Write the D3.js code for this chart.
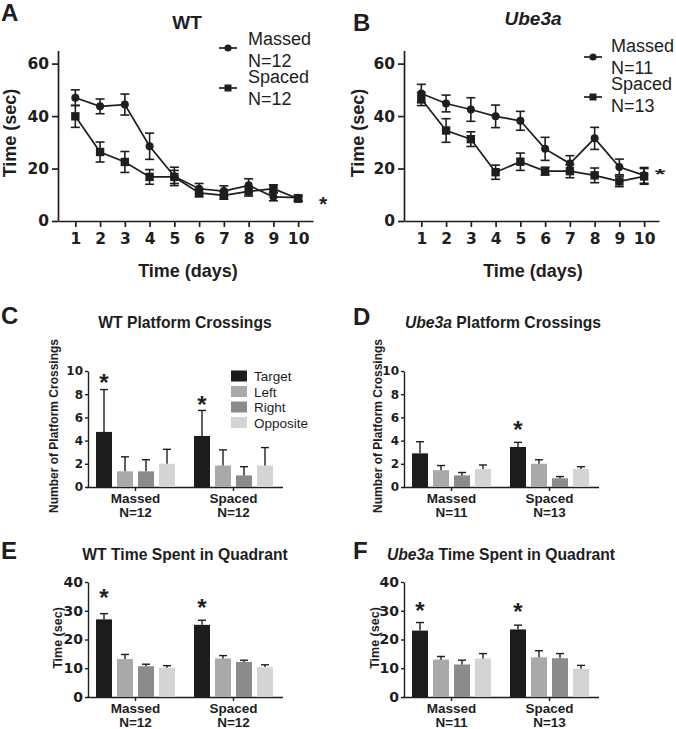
<!DOCTYPE html>
<html><head><meta charset="utf-8">
<script src="https://cdn.jsdelivr.net/npm/d3@7"></script>
<style>
body{margin:0;background:#fff}
svg{display:block}
text{font-family:"Liberation Sans",Arial,sans-serif;fill:#1e1e1e}
.num text{font-family:"DejaVu Sans",sans-serif;font-weight:bold}
</style>
</head><body>
<svg id="c" width="676" height="729"></svg>
<script>
// ---------- data ----------
const days = [1,2,3,4,5,6,7,8,9,10];
const timeTicks = [0,20,40,60];

const wtMassed     = [47.0, 43.7, 44.4, 28.5, 17.0, 12.3, 11.4, 13.6, 9.2, 8.9];
const wtMassedErr  = [3.0, 2.8, 4.0, 5.0, 3.5, 2.0, 2.0, 2.5, 1.5, 1.0];
const wtSpaced     = [39.9, 26.3, 22.5, 16.8, 16.8, 10.7, 9.8, 11.3, 12.3, 8.5];
const wtSpacedErr  = [4.2, 3.8, 4.0, 2.8, 2.5, 1.5, 1.5, 1.8, 1.5, 1.0];

const ubMassed     = [48.6, 44.8, 42.5, 39.9, 38.2, 27.5, 21.9, 31.5, 20.6, 17.4];
const ubMassedErr  = [3.5, 3.2, 4.5, 4.3, 3.6, 4.4, 3.0, 4.2, 3.0, 3.0];
const ubSpaced     = [46.5, 34.5, 31.2, 18.6, 22.6, 19.0, 19.0, 17.4, 15.1, 17.0];
const ubSpacedErr  = [2.5, 4.5, 2.8, 2.7, 3.3, 1.5, 2.5, 2.8, 2.0, 3.0];

const quadrants = ["Target","Left","Right","Opposite"];
const quadColors = ["#1c1c1c","#a9a9a9","#8b8b8b","#d4d4d4"];
const groups = ["Massed","Spaced"];

const crossTicks = [0,2,4,6,8,10];
const quadTicks = [0,10,20,30,40];

// platform crossings (means / SEM), order Target, Left, Right, Opposite
const wtCrossMassed    = [4.75, 1.35, 1.35, 2.0];
const wtCrossMassedErr = [3.65, 1.25, 1.0, 1.25];
const wtCrossSpaced    = [4.4, 1.85, 1.0, 1.85];
const wtCrossSpacedErr = [2.2, 1.35, 0.75, 1.55];

const ubCrossMassed    = [2.9, 1.45, 1.0, 1.55];
const ubCrossMassedErr = [1.0, 0.4, 0.25, 0.35];
const ubCrossSpaced    = [3.45, 2.0, 0.75, 1.55];
const ubCrossSpacedErr = [0.4, 0.35, 0.15, 0.2];

// time in quadrant
const wtQuadMassed    = [27.0, 13.2, 10.7, 10.2];
const wtQuadMassedErr = [2.0, 1.6, 0.7, 0.7];
const wtQuadSpaced    = [25.1, 13.4, 12.2, 10.4];
const wtQuadSpacedErr = [1.6, 1.0, 0.6, 0.8];

const ubQuadMassed    = [23.1, 13.0, 11.3, 13.4];
const ubQuadMassedErr = [2.8, 1.1, 1.5, 1.7];
const ubQuadSpaced    = [23.5, 13.8, 13.5, 9.8];
const ubQuadSpacedErr = [1.5, 2.3, 1.6, 1.2];

// significance stars: [group, value position]
const wtCrossStars = [["Massed", 9.4], ["Spaced", 7.5]];
const ubCrossStars = [["Spaced", 5.35]];
const wtQuadStars  = [["Massed", 36.2], ["Spaced", 32.7]];
const ubQuadStars  = [["Massed", 31.7], ["Spaced", 31.3]];

// ---------- drawing ----------
const svg = d3.select("#c");
const INK = "#1e1e1e";

function styleAxis(sel, w) {
  sel.selectAll("path.domain").attr("stroke", INK).attr("stroke-width", w);
  sel.selectAll(".tick line").attr("stroke", INK).attr("stroke-width", w);
  sel.selectAll(".tick text").attr("fill", INK);
}

function star(g, cx, cy, size, sx, sy) {
  g.append("text").attr("text-anchor","middle")
    .attr("transform", `translate(${cx},${cy}) scale(${sx||1},${sy||1})`)
    .attr("y", size*0.55)
    .attr("font-size", size).attr("font-weight","bold").text("*");
}

function letter(txt, x, y) {
  svg.append("text").attr("x", x).attr("y", y).attr("font-size", 24)
    .attr("font-weight","bold").text(txt);
}

function linePanel(o) {
  const g = svg.append("g");
  const x = d3.scaleLinear().domain([0.3, 10.6]).range([o.ax, o.ax + 255]);
  const y = d3.scaleLinear().domain([0, 65]).range([221, 50.5]);

  const gx = g.append("g").attr("class","num").attr("transform","translate(0,221)")
    .call(d3.axisBottom(x).tickValues(days).tickSize(6).tickPadding(6).tickSizeOuter(0));
  gx.selectAll(".tick text").attr("font-size", 15.5);
  styleAxis(gx, 1.7);
  const gy = g.append("g").attr("class","num").attr("transform",`translate(${o.ax},0)`)
    .call(d3.axisLeft(y).tickValues(timeTicks).tickSize(6).tickPadding(3).tickSizeOuter(0));
  gy.selectAll(".tick text").attr("font-size", 15.5);
  styleAxis(gy, 1.7);

  o.series.forEach(s => {
    const pts = days.map((d,i) => ({d, v: s.vals[i], e: s.errs[i]}));
    g.append("path").datum(pts)
      .attr("d", d3.line().x(p => x(p.d)).y(p => y(p.v)))
      .attr("fill","none").attr("stroke", INK).attr("stroke-width", 1.7);
    const eb = g.append("g").attr("stroke", INK).attr("stroke-width", 1.6);
    pts.forEach(p => {
      const cx = x(p.d);
      eb.append("line").attr("x1",cx).attr("x2",cx).attr("y1",y(p.v-p.e)).attr("y2",y(p.v+p.e));
      eb.append("line").attr("x1",cx-4.5).attr("x2",cx+4.5).attr("y1",y(p.v-p.e)).attr("y2",y(p.v-p.e));
      eb.append("line").attr("x1",cx-4.5).attr("x2",cx+4.5).attr("y1",y(p.v+p.e)).attr("y2",y(p.v+p.e));
    });
    pts.forEach(p => {
      if (s.shape === "circle")
        g.append("circle").attr("cx", x(p.d)).attr("cy", y(p.v)).attr("r", 4).attr("fill", INK);
      else
        g.append("rect").attr("x", x(p.d)-4.2).attr("y", y(p.v)-4.2).attr("width", 8.4).attr("height", 8.4).attr("fill", INK);
    });
    // legend
    const lg = g.append("g");
    lg.append("line").attr("x1", s.lx).attr("x2", s.lx + 18).attr("y1", s.ly).attr("y2", s.ly)
      .attr("stroke", INK).attr("stroke-width", 1.7);
    if (s.shape === "circle")
      lg.append("circle").attr("cx", s.lx + 9).attr("cy", s.ly).attr("r", 3.6).attr("fill", INK);
    else
      lg.append("rect").attr("x", s.lx + 5.5).attr("y", s.ly - 3.5).attr("width", 7).attr("height", 7).attr("fill", INK);
    lg.append("text").attr("x", s.tx).attr("y", s.ty1).attr("font-size", 18).text(s.name);
    lg.append("text").attr("x", s.tx).attr("y", s.ty2).attr("font-size", 18).text(s.n);
  });

  // title
  g.append("text").attr("x", o.titleX).attr("y", o.titleY).attr("text-anchor","middle")
    .attr("font-size", 19).attr("font-weight","bold").attr("font-style", o.italic ? "italic" : "normal")
    .text(o.title);
  // axis labels
  g.append("text").attr("transform", `translate(${o.ylx},${o.yly}) rotate(-90)`)
    .attr("text-anchor","middle").attr("font-size", 18).attr("font-weight","bold").text("Time (sec)");
  g.append("text").attr("x", o.xlx).attr("y", 277).attr("text-anchor","middle")
    .attr("font-size", 18).attr("font-weight","bold").text("Time (days)");
  star(g, o.starX, o.starY, 21, o.starSX, o.starSY);
}

function barPanel(o) {
  const g = svg.append("g");
  const x0 = d3.scaleBand().domain(groups).range([o.ax - 1.5, o.ax + 194.5]);
  const x1 = d3.scaleBand().domain(quadrants).range([-39.5, 39.5]).paddingInner(0.238);
  const y = d3.scaleLinear().domain([0, o.max]).range([o.y0, o.y1]);
  const color = d3.scaleOrdinal().domain(quadrants).range(quadColors);

  const gx = g.append("g").attr("transform", `translate(0,${o.y0})`)
    .call(d3.axisBottom(x0).tickSize(4).tickSizeOuter(0).tickFormat(""));
  styleAxis(gx, 1.4);
  const gy = g.append("g").attr("class","num").attr("transform", `translate(${o.ax},0)`)
    .call(d3.axisLeft(y).tickValues(o.ticks).tickSize(3).tickPadding(2).tickSizeOuter(0));
  gy.selectAll(".tick text").attr("font-size", o.tickFont);
  styleAxis(gy, 1.4);

  const data = [o.massed, o.spaced];
  const errs = [o.massedErr, o.spacedErr];
  groups.forEach((grp, gi) => {
    const cx0 = x0(grp) + x0.bandwidth()/2;
    quadrants.forEach((q, qi) => {
      const v = data[gi][qi], e = errs[gi][qi];
      const bx = cx0 + x1(q);
      const bw = x1.bandwidth();
      g.append("rect").attr("x", bx).attr("y", y(v)).attr("width", bw).attr("height", y(0) - y(v))
        .attr("fill", color(q));
      const mx = bx + bw/2;
      g.append("line").attr("x1", mx).attr("x2", mx).attr("y1", y(v)).attr("y2", y(v+e))
        .attr("stroke", INK).attr("stroke-width", 1.4);
      g.append("line").attr("x1", mx-4).attr("x2", mx+4).attr("y1", y(v+e)).attr("y2", y(v+e))
        .attr("stroke", INK).attr("stroke-width", 1.4);
    });
    g.append("text").attr("x", cx0).attr("y", o.y0 + 15.5).attr("text-anchor","middle")
      .attr("font-size", 13.5).attr("font-weight","bold").text(grp);
    g.append("text").attr("x", cx0).attr("y", o.y0 + 30).attr("text-anchor","middle")
      .attr("font-size", 13.5).attr("font-weight","bold").text(o.ns[gi]);
  });
  o.stars.forEach(([grp, val]) => {
    const cx = x0(grp) + x0.bandwidth()/2 + x1("Target") + x1.bandwidth()/2;
    star(g, cx, y(val), 24);
  });

  // title
  const t = g.append("text").attr("x", o.titleX).attr("y", o.titleY).attr("text-anchor","middle")
    .attr("font-size", 15.7).attr("font-weight","bold");
  if (o.italicPart) t.append("tspan").attr("font-style","italic").text(o.italicPart);
  t.append("tspan").text(o.title);
  // y label
  g.append("text").attr("transform", `translate(${o.ylx},${o.yly}) rotate(-90)`)
    .attr("text-anchor","middle").attr("font-size", o.ylFont).attr("font-weight","bold").text(o.ylabel);

  if (o.legend) {
    quadrants.forEach((q, qi) => {
      const ly = o.legend.y + qi * 15.5;
      g.append("rect").attr("x", o.legend.x).attr("y", ly).attr("width", 16).attr("height", 11)
        .attr("fill", color(q));
      g.append("text").attr("x", o.legend.x + 23).attr("y", ly + 10.5).attr("font-size", 13.5).text(q);
    });
  }
}

// Panels A & B
linePanel({
  ax: 58, title: "WT", titleX: 187, titleY: 28.5, italic: false,
  ylx: 16, yly: 133, xlx: 188, starX: 323, starY: 199,
  series: [
    {name:"Massed", n:"N=12", vals: wtMassed, errs: wtMassedErr, shape:"circle", lx:219, ly:48, tx:248, ty1:45, ty2:66.5},
    {name:"Spaced", n:"N=12", vals: wtSpaced, errs: wtSpacedErr, shape:"square", lx:219, ly:88, tx:248, ty1:83, ty2:105}
  ]
});
linePanel({
  ax: 404, title: "Ube3a", titleX: 533, titleY: 25, italic: true,
  ylx: 364, yly: 133, xlx: 533, starX: 660, starY: 171, starSX: 1.3, starSY: 0.7,
  series: [
    {name:"Massed", n:"N=11", vals: ubMassed, errs: ubMassedErr, shape:"circle", lx:584, ly:57, tx:611, ty1:52, ty2:73.5},
    {name:"Spaced", n:"N=13", vals: ubSpaced, errs: ubSpacedErr, shape:"square", lx:584, ly:97, tx:611, ty1:90, ty2:112}
  ]
});

// Panels C & D
barPanel({
  ax: 88, max: 10, y0: 487, y1: 371, ticks: crossTicks, tickFont: 12,
  massed: wtCrossMassed, massedErr: wtCrossMassedErr, spaced: wtCrossSpaced, spacedErr: wtCrossSpacedErr,
  ns: ["N=12","N=12"], stars: wtCrossStars,
  title: "WT Platform Crossings", titleX: 185, titleY: 328,
  ylabel: "Number of Platform Crossings", ylFont: 12, ylx: 58, yly: 426,
  legend: {x: 231, y: 370.5}
});
barPanel({
  ax: 404, max: 10, y0: 487, y1: 371, ticks: crossTicks, tickFont: 12,
  massed: ubCrossMassed, massedErr: ubCrossMassedErr, spaced: ubCrossSpaced, spacedErr: ubCrossSpacedErr,
  ns: ["N=11","N=13"], stars: ubCrossStars,
  italicPart: "Ube3a", title: " Platform Crossings", titleX: 503, titleY: 328,
  ylabel: "Number of Platform Crossings", ylFont: 12, ylx: 382, yly: 426
});

// Panels E & F
barPanel({
  ax: 88, max: 40, y0: 697, y1: 582, ticks: quadTicks, tickFont: 14,
  massed: wtQuadMassed, massedErr: wtQuadMassedErr, spaced: wtQuadSpaced, spacedErr: wtQuadSpacedErr,
  ns: ["N=12","N=12"], stars: wtQuadStars,
  title: "WT Time Spent in Quadrant", titleX: 185, titleY: 560,
  ylabel: "Time (sec)", ylFont: 12.5, ylx: 62, yly: 638
});
barPanel({
  ax: 404, max: 40, y0: 697, y1: 582, ticks: quadTicks, tickFont: 14,
  massed: ubQuadMassed, massedErr: ubQuadMassedErr, spaced: ubQuadSpaced, spacedErr: ubQuadSpacedErr,
  ns: ["N=11","N=13"], stars: ubQuadStars,
  italicPart: "Ube3a", title: " Time Spent in Quadrant", titleX: 501, titleY: 560,
  ylabel: "Time (sec)", ylFont: 12.5, ylx: 379, yly: 638
});

letter("A", 1, 21);
letter("B", 353, 31);
letter("C", 1, 324);
letter("D", 353, 325);
letter("E", 1, 559);
letter("F", 353, 559);
</script>
</body></html>
